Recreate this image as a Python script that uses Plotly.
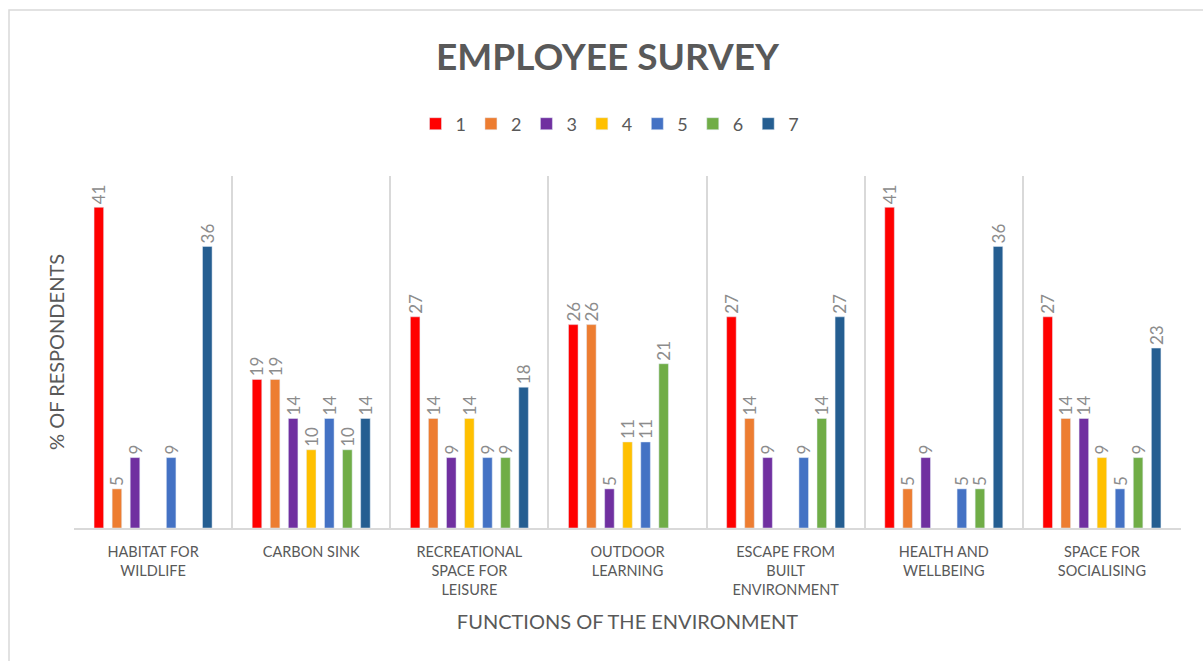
import plotly.graph_objects as go

categories = ["HABITAT FOR<br>WILDLIFE", "CARBON SINK", "RECREATIONAL<br>SPACE FOR<br>LEISURE",
              "OUTDOOR<br>LEARNING", "ESCAPE FROM<br>BUILT<br>ENVIRONMENT",
              "HEALTH AND<br>WELLBEING", "SPACE FOR<br>SOCIALISING"]
series_names = ["1", "2", "3", "4", "5", "6", "7"]
s1 = [41, 19, 27, 26, 27, 41, 27]
s2 = [5, 19, 14, 26, 14, 5, 14]
s3 = [9, 14, 9, 5, 9, 9, 14]
s4 = [None, 10, 14, 11, None, None, 9]
s5 = [9, 14, 9, 11, 9, 5, 5]
s6 = [None, 10, 9, 21, 14, 5, 9]
s7 = [36, 14, 18, None, 27, 36, 23]
series_values = [s1, s2, s3, s4, s5, s6, s7]
colors = ["#FF0000", "#ED7D31", "#7030A0", "#FFC000", "#4472C4", "#70AD47", "#255E91"]

W, H = 1203, 661
L, R, T, B = 74, 22, 176, 133
pw, ph = W - L - R, H - T - B

def px_x(x):
    return (x - L) / pw

def px_y(y):
    return (H - B - y) / ph

FONT = "Lato"
fig = go.Figure()
for name, vals, c in zip(series_names, series_values, colors):
    fig.add_trace(go.Bar(
        name=name, x=categories, y=vals, marker_color=c,
        text=[None if v is None else str(v) for v in vals],
        textposition="outside", textangle=-90, constraintext="none",
        textfont=dict(family=FONT, size=17, color="#8C8C8C"),
        cliponaxis=False,
    ))

fig.update_layout(
    width=W, height=H,
    margin=dict(l=L, r=R, t=T, b=B),
    paper_bgcolor="white", plot_bgcolor="white",
    barmode="group", bargap=0.2, bargroupgap=0.47,
    title=dict(text="<b>EMPLOYEE SURVEY</b>", x=0.505, xanchor="center",
               y=1 - 57 / H, yanchor="middle",
               font=dict(family=FONT, size=37, color="#595959")),
    legend=dict(orientation="h", x=px_x(610), xanchor="center", y=px_y(124), yanchor="middle",
                font=dict(family=FONT, size=18, color="#595959"),
                itemwidth=30, tracegroupgap=0, traceorder="normal"),
    font=dict(family=FONT, color="#595959"),
    showlegend=True,
)
fig.update_xaxes(
    tickson="boundaries", showgrid=True, gridcolor="#D9D9D9", gridwidth=2,
    showline=True, linecolor="#D9D9D9", linewidth=2, ticks="",
    ticklabelstandoff=10,
    tickfont=dict(family=FONT, size=14.5, color="#595959"),
    title=dict(text="FUNCTIONS OF THE ENVIRONMENT", font=dict(family=FONT, size=20, color="#595959"),
               standoff=18),
)
fig.update_yaxes(
    range=[0, 45], showgrid=False, showticklabels=False, zeroline=False, ticks="",
    title=dict(text="% OF RESPONDENTS", font=dict(family=FONT, size=20, color="#595959"), standoff=3),
)
# chart outer border
fig.add_shape(type="rect", xref="paper", yref="paper",
              x0=px_x(9), x1=px_x(1215), y0=px_y(675), y1=px_y(10),
              line=dict(color="#D9D9D9", width=1.5), fillcolor="rgba(0,0,0,0)", layer="below")

fig.write_html("out.html", config={"displayModeBar": False},
               post_script="document.body.style.margin='0';document.body.style.overflow='hidden';")
